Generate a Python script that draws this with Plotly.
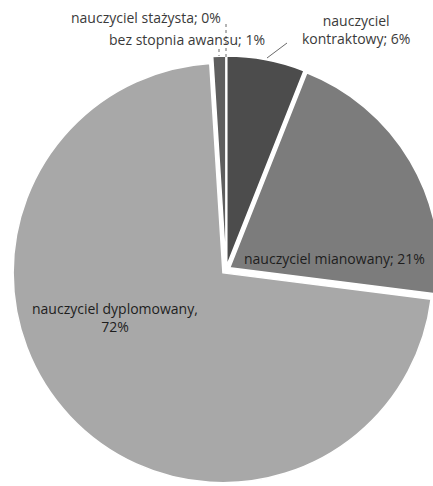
import plotly.graph_objects as go

categories = ["nauczyciel stażysta", "nauczyciel kontraktowy", "nauczyciel mianowany",
              "nauczyciel dyplomowany", "bez stopnia awansu"]
values = [0, 6, 21, 72, 1]
colors = ["#3a3a3a", "#4c4c4c", "#7c7c7c", "#a8a8a8", "#5e5e5e"]

W, H = 460, 500


def px(X):
    return X / W


def py(Y):
    return 1 - Y / H


fig = go.Figure(go.Pie(
    labels=categories,
    values=values,
    sort=False,
    direction="clockwise",
    rotation=0,
    pull=[0.02] * len(values),
    marker=dict(colors=colors, line=dict(color="white", width=1.5)),
    textinfo="none",
    hoverinfo="label+percent",
    showlegend=False,
    domain=dict(x=[12 / W, 440 / W], y=[16 / H, 444 / H]),
))

font_out = dict(family="Open Sans", size=14, color="#3a3a3a")
font_in = dict(family="Open Sans", size=14, color="#1e1e1e")


def lbl(i):
    return f"{categories[i]}; {values[i]}%"


def ann(X, Y, text, font, xanchor="center"):
    return dict(x=px(X), y=py(Y), xref="paper", yref="paper", text=text,
                showarrow=False, font=font, xanchor=xanchor, yanchor="middle")


annotations = [
    ann(146, 17, lbl(0), font_out),
    ann(187, 40, lbl(4), font_out),
    ann(356, 29, "nauczyciel<br>kontraktowy; " + f"{values[1]}%", font_out),
    ann(242, 258, lbl(2), font_in, xanchor="left"),
    ann(115, 317, "nauczyciel dyplomowany,<br>" + f"{values[3]}%", font_in),
]

lines = [
    dict(x0=287, y0=43, x1=267, y1=58, dash="solid"),
    dict(x0=226, y0=24, x1=226, y1=57, dash="dot"),
    dict(x0=219, y0=49, x1=219, y1=56, dash="dot"),
]
shapes = [dict(type="line", xref="paper", yref="paper",
               x0=px(l["x0"]), y0=py(l["y0"]), x1=px(l["x1"]), y1=py(l["y1"]),
               line=dict(color="#6a6a6a", width=1, dash=l["dash"])) for l in lines]

fig.update_layout(
    width=W, height=H,
    margin=dict(l=0, r=0, t=0, b=0),
    paper_bgcolor="white", plot_bgcolor="white",
    annotations=annotations, shapes=shapes,
)
fig.write_html(
    "out.html",
    config={"displayModeBar": False},
    post_script=("document.body.style.margin='0';"
                 "document.documentElement.style.overflow='hidden';"
                 "document.body.style.overflow='hidden';"),
)
